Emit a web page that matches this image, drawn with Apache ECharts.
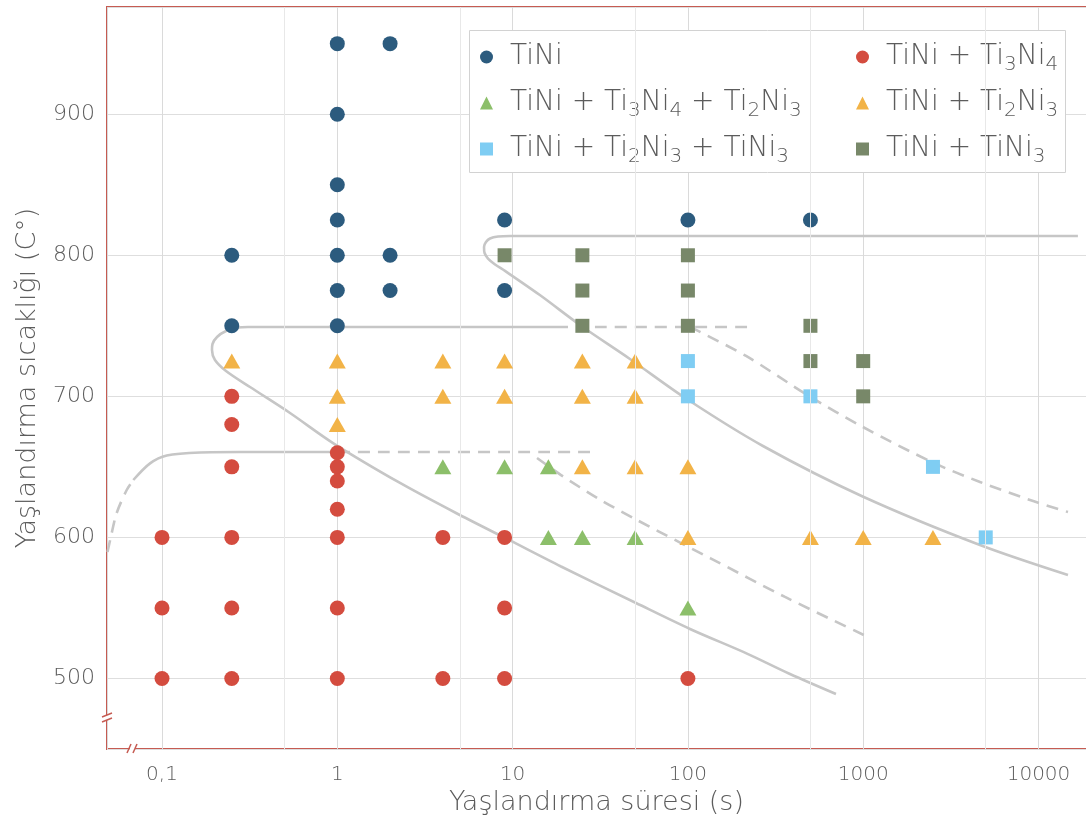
<!DOCTYPE html>
<html>
<head>
<meta charset="utf-8">
<script src="https://cdn.jsdelivr.net/npm/echarts@6/dist/echarts.min.js"></script>
<style>html,body{margin:0;padding:0;background:#fff;overflow:hidden}#chart{width:1086px;height:825px}</style>
</head>
<body>
<div id="chart"></div>
<script>
// ---- tick labels ----
const xTickValues = [0.1, 1, 10, 100, 1000, 10000];
const xTickLabels = ['0,1', '1', '10', '100', '1000', '10000'];
const yTickValues = [500, 600, 700, 800, 900];
const minorGridX = [0.5, 5, 50, 500, 5000];

// ---- series names ----
const seriesNames = [
  'TiNi',
  'TiNi + Ti3Ni4',
  'TiNi + Ti3Ni4 + Ti2Ni3',
  'TiNi + Ti2Ni3',
  'TiNi + Ti2Ni3 + TiNi3',
  'TiNi + TiNi3'
];

// ---- scatter data [time (s), temperature (°C)] ----
const tiNi = [[1,950],[2,950],[1,900],[1,850],[1,825],[1,800],[1,775],[1,750],
  [0.25,800],[0.25,750],[2,800],[2,775],[9,825],[9,775],[100,825],[500,825]];
const tiNiTi3Ni4 = [[0.1,600],[0.1,550],[0.1,500],
  [0.25,700],[0.25,680],[0.25,650],[0.25,600],[0.25,550],[0.25,500],
  [1,660],[1,650],[1,640],[1,620],[1,600],[1,550],[1,500],
  [4,600],[4,500],[9,600],[9,550],[9,500],[100,500]];
const tiNiTi3Ni4Ti2Ni3 = [[4,650],[9,650],[16,650],[16,600],[25,600],[50,600],[100,550]];
const tiNiTi2Ni3 = [[0.25,725],[1,725],[1,700],[1,680],[4,725],[4,700],[9,725],[9,700],
  [25,725],[25,700],[25,650],[50,725],[50,700],[50,650],[100,650],[100,600],
  [500,600],[1000,600],[2500,600]];
const tiNiTi2Ni3TiNi3 = [[100,725],[100,700],[500,700],[2500,650],[5000,600]];
const tiNiTiNi3 = [[9,800],[25,800],[25,775],[25,750],[100,800],[100,775],[100,750],
  [500,750],[500,725],[1000,725],[1000,700]];

// ---- boundary curves [time (s), temperature (°C)] ----
const curveLowDash = [[0.04888,589.7],[0.05136,601.7],[0.05514,617.3],[0.06289,633.6],[0.0686,640.7]];
const curveLowSolid = [[0.0686,640.7],[0.08545,652.5],[0.1064,658.1],[0.1647,660.2],[0.2786,660.5],[1.009,660.5]];
const curveLowHDash = [[1.009,660.5],[27.64,660.5]];
const curveMid = [[20.7,749.2],[2,749.2],[0.3094,749.2],[0.2714,748.8],[0.2318,746.3],[0.206,742.1],
  [0.1941,737.1],[0.1928,732.8],[0.2005,725.8],[0.2318,718.0],[0.3177,706.6],[0.5372,688.2],
  [0.9451,666.9],[2.279,638.6],[4.754,617.3],[9.539,598.2],[18.89,579.4],[50.58,553.5],
  [102.8,535.1],[220.3,517.3],[382.2,503.2],[699.3,489.0]];
const curveMidHDash = [[29.5,749.2],[231.8,749.2]];
const curveHigh = [[16780,813.7],[500,813.7],[9.67,813.7],[8.26,813.3],[7.43,811.9],[7.05,809.4],
  [6.87,805.9],[6.92,801.6],[7.24,797.7],[7.94,793.5],[9.05,788.9],[14.3,771.8],[24.9,749.5],
  [46.7,726.5],[98.5,698.1],[268,664.8],[993,629.0],[4634,594.6],[14730,573.3]];
const curveHighDash = [[102.8,749.2],[214.6,728.6],[490.6,700.2],[984.5,678.6],[2535,652.7],
  [4639,639.3],[8948,626.5],[14730,618.0]];
const curveLowDiagDash = [[13.78,656.3],[18.89,644.2],[31.11,627.2],[50.58,612.7],[91.3,596.0],
  [135.5,585.0],[358,557.8],[1037,530.1]];

const FONT = 'DejaVu Sans';
const TXT = '#5c5c5c';
const CURVE = '#c6c6c6';
const BORDER = '#c65b52';

function legendFmt(name) {
  return '{g| }' + name.split(/(\d)/).filter(s => s.length)
    .map(s => /^\d$/.test(s) ? '{s|' + s + '}' : '{n|' + s + '}').join('');
}
const legendRich = {
  g: {width: 12, fontSize: 10, lineHeight: 36},
  n: {fontFamily: FONT, fontWeight: 300, fontSize: 28, lineHeight: 36, color: TXT},
  s: {fontFamily: FONT, fontWeight: 300, fontSize: 20, lineHeight: 18, color: TXT, verticalAlign: 'bottom'}
};
// legend layout: column x and row centre y for each item (in seriesNames order)
const legendCols = [480, 856];
const legendRows = [55, 101, 147];
const legendSlots = [[0,0],[1,0],[0,1],[1,1],[0,2],[1,2]];

function scatter(name, data, symbol, size, color) {
  return {
    name, type: 'scatter', data, symbol, symbolSize: size, z: 3,
    itemStyle: {color: color, opacity: 1}
  };
}
function curve(data, dashed, extra) {
  return Object.assign({
    type: 'line', data, smooth: 0.3, showSymbol: false, silent: true, z: 2,
    lineStyle: {color: CURVE, width: 2.6, type: dashed ? [12, 8] : 'solid'},
    emphasis: {disabled: true}, tooltip: {show: false}
  }, extra || {});
}

const chart = echarts.init(document.getElementById('chart'), null, {renderer: 'canvas'});
const option = {
  animation: false,
  backgroundColor: '#fff',
  grid: {left: 107, top: 7, width: 995, height: 742, show: true, outerBoundsMode: 'none',
         containLabel: false,
         borderColor: BORDER, borderWidth: 2, backgroundColor: 'transparent'},
  xAxis: {
    type: 'log', logBase: 10, min: 0.04855, max: 23026,
    name: 'Yaşlandırma süresi (s)', nameLocation: 'middle', nameGap: 38,
    nameTextStyle: {fontFamily: FONT, fontWeight: 300, fontSize: 27, color: TXT, padding: [0, 16, 0, 0]},
    axisLine: {show: false}, axisTick: {show: false},
    axisLabel: {
      fontFamily: FONT, fontWeight: 300, fontSize: 20, color: TXT, margin: 16,
      showMinLabel: false, showMaxLabel: false,
      formatter: v => {
        const i = xTickValues.findIndex(t => Math.abs(Math.log10(t) - Math.log10(v)) < 1e-6);
        return i >= 0 ? xTickLabels[i] : '';
      }
    },
    splitLine: {show: true, lineStyle: {color: '#dadada', width: 1}}
  },
  yAxis: {
    type: 'value', min: 450, max: 976, splitNumber: 5,
    name: 'Yaşlandırma sıcaklığı (C°)', nameLocation: 'middle', nameGap: 66,
    nameTextStyle: {fontFamily: FONT, fontWeight: 300, fontSize: 27, color: TXT},
    axisLine: {show: false}, axisTick: {show: false},
    axisLabel: {
      fontFamily: FONT, fontWeight: 300, fontSize: 22, color: TXT, margin: 12,
      showMinLabel: false, showMaxLabel: false,
      formatter: v => yTickValues.indexOf(v) >= 0 ? String(v) : ''
    },
    splitLine: {show: true, lineStyle: {color: '#dedede', width: 1}}
  },
  legend: seriesNames.map((nm, i) => ({
    data: [nm],
    left: legendCols[legendSlots[i][0]],
    top: legendRows[legendSlots[i][1]] - 12,
    padding: 0, itemWidth: 13, itemHeight: 13, z: 5, selectedMode: false,
    formatter: legendFmt, textStyle: {rich: legendRich}
  })),
  graphic: [
    {type: 'rect', left: 469, top: 30, z: 4, silent: true,
     shape: {width: 596, height: 142},
     style: {fill: '#fff', stroke: '#d2d2d2', lineWidth: 1}},
    // axis break on y axis
    {type: 'rect', z: 10, silent: true, shape: {x: 104, y: 715, width: 6, height: 5}, style: {fill: '#fff'}},
    {type: 'line', z: 11, silent: true, shape: {x1: 102, y1: 717, x2: 112, y2: 713}, style: {stroke: BORDER, lineWidth: 1.5}},
    {type: 'line', z: 11, silent: true, shape: {x1: 102, y1: 722, x2: 112, y2: 718}, style: {stroke: BORDER, lineWidth: 1.5}},
    // axis break on x axis
    {type: 'rect', z: 10, silent: true, shape: {x: 130, y: 746, width: 5, height: 6}, style: {fill: '#fff'}},
    {type: 'line', z: 11, silent: true, shape: {x1: 127, y1: 753, x2: 131, y2: 744}, style: {stroke: BORDER, lineWidth: 1.5}},
    {type: 'line', z: 11, silent: true, shape: {x1: 133, y1: 753, x2: 137, y2: 744}, style: {stroke: BORDER, lineWidth: 1.5}}
  ],
  series: [
    curve(curveLowDash, true, {
      markLine: {
        silent: true, symbol: ['none', 'none'], label: {show: false},
        lineStyle: {color: '#e8e8e8', type: 'solid', width: 1},
        emphasis: {disabled: true},
        data: minorGridX.map(v => ({xAxis: v}))
      }
    }),
    curve(curveLowSolid, false),
    curve(curveLowHDash, true),
    curve(curveMid, false),
    curve(curveMidHDash, true),
    curve(curveHigh, false),
    curve(curveHighDash, true),
    curve(curveLowDiagDash, true),
    scatter(seriesNames[0], tiNi, 'circle', 15, '#2c5b7e'),
    scatter(seriesNames[1], tiNiTi3Ni4, 'circle', 15, '#d44c3f'),
    scatter(seriesNames[2], tiNiTi3Ni4Ti2Ni3, 'triangle', [17, 15], '#8cbf6a'),
    scatter(seriesNames[3], tiNiTi2Ni3, 'triangle', [17, 15], '#f2b347'),
    scatter(seriesNames[4], tiNiTi2Ni3TiNi3, 'rect', 14, '#7fcdf3'),
    scatter(seriesNames[5], tiNiTiNi3, 'rect', 14, '#788869')
  ]
};
chart.setOption(option);
</script>
</body>
</html>
